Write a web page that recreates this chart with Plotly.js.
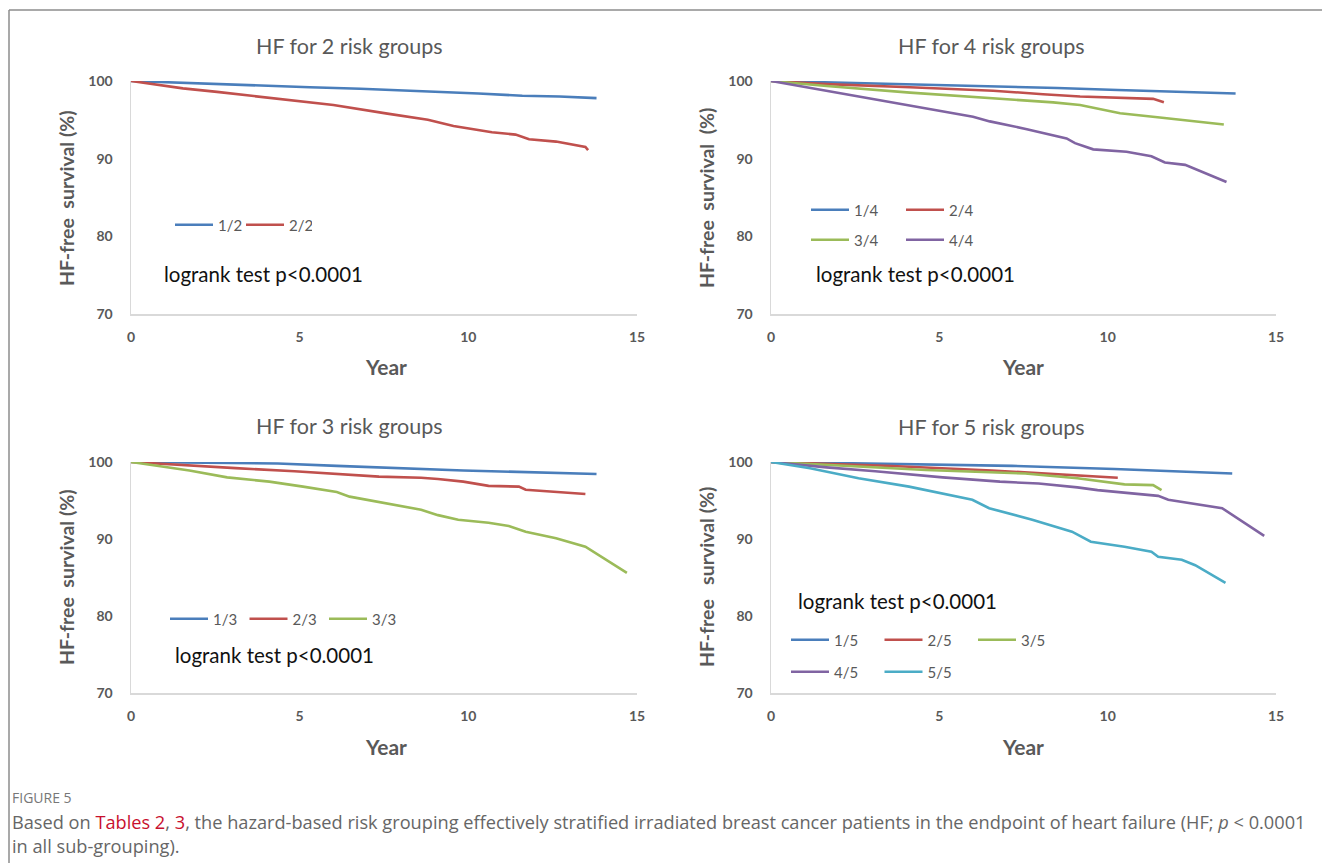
<!DOCTYPE html>
<html>
<head>
<meta charset="utf-8">
<script src="https://cdn.plot.ly/plotly-3.0.1.min.js"></script>
<style>html,body{margin:0;padding:0;background:#fff;}#chart{width:1322px;height:863px;}</style>
</head>
<body>
<div id="chart"></div>
<script>
// ---------- data ----------
// Panel A: HF for 2 risk groups
const g2_labels = ["1/2", "2/2"];
const g2_t1 = [0, 1.2, 2.5, 3.8, 5.3, 6.8, 8.3, 9.4, 10.3, 11.6, 12.7, 13.8];
const g2_s1 = [100, 99.8, 99.6, 99.45, 99.2, 99.0, 98.75, 98.6, 98.4, 98.1, 98.0, 97.8];
const g2_t2 = [0, 0.8, 1.54, 2.55, 3.83, 5.0, 6.0, 7.6, 8.8, 9.56, 10.7, 11.4, 11.8, 12.6, 13.47, 13.55];
const g2_s2 = [100, 99.5, 99.05, 98.6, 98.0, 97.4, 96.9, 95.8, 95.0, 94.2, 93.4, 93.1, 92.5, 92.2, 91.5, 91.1];

// Panel B: HF for 4 risk groups
const g4_labels = ["1/4", "2/4", "3/4", "4/4"];
const g4_t1 = [0, 1.5, 4.0, 6.6, 8.5, 10.3, 13.8];
const g4_s1 = [100, 99.85, 99.55, 99.3, 99.1, 98.85, 98.4];
const g4_t2 = [0, 1.65, 4.13, 6.6, 8.08, 9.18, 11.35, 11.67];
const g4_s2 = [100, 99.6, 99.2, 98.75, 98.3, 98.0, 97.7, 97.25];
const g4_t3 = [0, 1.65, 4.13, 6.6, 8.38, 9.18, 10.37, 11.55, 12.24, 13.45];
const g4_s3 = [100, 99.35, 98.5, 97.8, 97.25, 96.9, 95.85, 95.3, 95.0, 94.4];
const g4_t4 = [0, 1.65, 2.94, 4.62, 6.0, 6.5, 7.6, 8.78, 9.03, 9.57, 10.56, 11.3, 11.7, 12.3, 13.53];
const g4_s4 = [100, 98.75, 97.8, 96.5, 95.4, 94.8, 93.8, 92.6, 92.0, 91.2, 90.9, 90.3, 89.5, 89.2, 87.0];

// Panel C: HF for 3 risk groups
const g3_labels = ["1/3", "2/3", "3/3"];
const g3_t1 = [0, 1.5, 4.35, 6.1, 8.1, 9.85, 13.8];
const g3_s1 = [100, 99.95, 99.8, 99.5, 99.15, 98.9, 98.45];
const g3_t2 = [0, 1.73, 3.1, 4.85, 7.35, 8.6, 9.1, 9.85, 10.6, 11.5, 11.7, 13.47];
const g3_s2 = [100, 99.5, 99.2, 98.8, 98.1, 97.96, 97.8, 97.45, 96.9, 96.8, 96.4, 95.85];
const g3_t3 = [0, 1.73, 2.85, 4.1, 5.1, 6.1, 6.48, 7.6, 8.6, 9.1, 9.7, 10.6, 11.2, 11.7, 12.6, 13.47, 14.7];
const g3_s3 = [100, 98.9, 98.0, 97.45, 96.8, 96.1, 95.5, 94.65, 93.8, 93.1, 92.5, 92.1, 91.7, 90.95, 90.1, 89.0, 85.6];

// Panel D: HF for 5 risk groups
const g5_labels = ["1/5", "2/5", "3/5", "4/5", "5/5"];
const g5_t1 = [0, 1.5, 4.0, 7.16, 10.2, 13.7];
const g5_s1 = [100, 99.9, 99.7, 99.5, 99.1, 98.5];
const g5_t2 = [0, 1.5, 3.6, 6.56, 8.54, 10.3];
const g5_s2 = [100, 99.8, 99.48, 98.9, 98.4, 97.96];
const g5_t3 = [0, 2.14, 4.6, 7.55, 9.1, 10.5, 11.35, 11.6];
const g5_s3 = [100, 99.48, 98.96, 98.5, 97.9, 97.1, 97.0, 96.35];
const g5_t4 = [0, 1.65, 3.1, 5.1, 6.8, 7.95, 9.1, 9.7, 11.5, 11.8, 13.4, 14.65];
const g5_s4 = [100, 99.3, 98.8, 98.0, 97.45, 97.2, 96.7, 96.35, 95.6, 95.1, 94.0, 90.4];
const g5_t5 = [0, 1.16, 2.6, 4.1, 5.98, 6.48, 7.76, 8.94, 9.5, 10.5, 11.3, 11.5, 12.2, 12.6, 13.5];
const g5_s5 = [100, 99.2, 97.9, 96.8, 95.1, 94.0, 92.5, 90.95, 89.65, 89.0, 88.35, 87.7, 87.3, 86.6, 84.3];

const panelTitles = ["HF for 2 risk groups", "HF for 4 risk groups", "HF for 3 risk groups", "HF for 5 risk groups"];
const xTicks = [0, 5, 10, 15];
const yTicks = [70, 80, 90, 100];
const logrankText = "logrank test p<0.0001";

// ---------- styling ----------
const W = 1322, H = 863;
const COL = {blue: "#4a7ebb", red: "#c0504d", green: "#9bbb59", purple: "#8064a2", cyan: "#4bacc6"};
const FONT = "Lato, 'Open Sans', sans-serif";
const GREY = "#595959";
const px = v => v / W;
const py = v => 1 - v / H;

function tr(x, y, name, color, axis, legend) {
  return {x: x, y: y, name: name, type: "scatter", mode: "lines",
    line: {color: color, width: 2.6}, xaxis: "x" + axis, yaxis: "y" + axis, legend: legend, hoverinfo: "skip"};
}

const data = [
  tr(g2_t1, g2_s1, g2_labels[0], COL.blue, "", "legend"),
  tr(g2_t2, g2_s2, g2_labels[1], COL.red, "", "legend"),
  tr(g4_t1, g4_s1, g4_labels[0], COL.blue, "2", "legend2"),
  tr(g4_t2, g4_s2, g4_labels[1], COL.red, "2", "legend2"),
  tr(g4_t3, g4_s3, g4_labels[2], COL.green, "2", "legend3"),
  tr(g4_t4, g4_s4, g4_labels[3], COL.purple, "2", "legend3"),
  tr(g3_t1, g3_s1, g3_labels[0], COL.blue, "3", "legend4"),
  tr(g3_t2, g3_s2, g3_labels[1], COL.red, "3", "legend4"),
  tr(g3_t3, g3_s3, g3_labels[2], COL.green, "3", "legend4"),
  tr(g5_t1, g5_s1, g5_labels[0], COL.blue, "4", "legend5"),
  tr(g5_t2, g5_s2, g5_labels[1], COL.red, "4", "legend5"),
  tr(g5_t3, g5_s3, g5_labels[2], COL.green, "4", "legend5"),
  tr(g5_t4, g5_s4, g5_labels[3], COL.purple, "4", "legend6"),
  tr(g5_t5, g5_s5, g5_labels[4], COL.cyan, "4", "legend6")
];

function xa(d0, d1, anchor) {
  return {domain: [px(d0), px(d1)], range: [0, 15], tickvals: xTicks, ticktext: xTicks.map(String),
    showgrid: false, zeroline: false, showline: true, linecolor: "#d9d9d9", linewidth: 1.5,
    ticks: "", ticklabelstandoff: 10, anchor: anchor, fixedrange: true,
    tickfont: {family: FONT, size: 14, color: GREY, weight: "bold"}};
}
function ya(d0, d1, anchor) {
  return {domain: [py(d1), py(d0)], range: [70, 100], tickvals: yTicks, ticktext: yTicks.map(String),
    showgrid: false, zeroline: false, showline: true, linecolor: "#d9d9d9", linewidth: 1.5,
    ticks: "", ticklabelstandoff: 14, anchor: anchor, fixedrange: true,
    tickfont: {family: FONT, size: 14, color: GREY, weight: "bold"}};
}

function leg(xp, yp, ew) {
  return {x: px(xp), y: py(yp), xanchor: "left", yanchor: "middle", orientation: "h",
    bgcolor: "rgba(0,0,0,0)", borderwidth: 0, entrywidth: ew, entrywidthmode: "pixels",
    itemwidth: 38, tracegroupgap: 0, itemclick: false, itemdoubleclick: false,
    font: {family: FONT, size: 15, color: GREY}};
}

function ann(text, x, y, opts) {
  return Object.assign({text: text, x: px(x), y: py(y), xref: "paper", yref: "paper",
    showarrow: false, xanchor: "center", yanchor: "middle"}, opts || {});
}

const NB = "\u00A0";
const TF = {family: FONT, size: 21.5, color: GREY};
const AF = {family: FONT, size: 19.5, color: GREY, weight: "bold"};
const LF = {family: FONT, size: 20.5, color: "#111"};
const CF = {family: "'Open Sans', sans-serif", size: 18.2, color: "#666"};
const annotations = [
  ann(panelTitles[0], 349, 46, {font: TF}),
  ann(panelTitles[1], 991, 46, {font: TF}),
  ann(panelTitles[2], 349, 426, {font: TF}),
  ann(panelTitles[3], 991, 427, {font: TF}),
  ann("HF-free" + NB + NB + "survival (%)", 66, 198, {textangle: -90, font: AF}),
  ann("HF-free" + NB + NB + "survival" + NB + NB + "(%)", 706, 198, {textangle: -90, font: AF}),
  ann("HF-free" + NB + NB + "survival (%)", 66, 577, {textangle: -90, font: AF}),
  ann("HF-free" + NB + NB + NB + "survival (%)", 706, 577, {textangle: -90, font: AF}),
  ann("Year", 386, 366, {font: {family: FONT, size: 21, color: GREY, weight: "bold"}}),
  ann("Year", 1023, 366, {font: {family: FONT, size: 21, color: GREY, weight: "bold"}}),
  ann("Year", 386, 746, {font: {family: FONT, size: 21, color: GREY, weight: "bold"}}),
  ann("Year", 1023, 746, {font: {family: FONT, size: 21, color: GREY, weight: "bold"}}),
  ann(logrankText, 162, 274, {xanchor: "left", font: LF}),
  ann(logrankText, 814, 274, {xanchor: "left", font: LF}),
  ann(logrankText, 173, 655, {xanchor: "left", font: LF}),
  ann(logrankText, 796, 601, {xanchor: "left", font: LF}),
  ann("FIGURE 5", 10, 797, {xanchor: "left", font: {family: "'Open Sans', sans-serif", size: 14, color: "#777"}}),
  ann("Based on <span style='color:#c8102e'>Tables 2</span>, <span style='color:#c8102e'>3</span>, the hazard-based risk grouping effectively stratified irradiated breast cancer patients in the endpoint of heart failure (HF; <i>p</i>" + NB + "<" + NB + "0.0001",
    10, 822, {xanchor: "left", font: CF}),
  ann("in all sub-grouping).", 10, 846, {xanchor: "left", font: CF})
];

const layout = {
  width: W, height: H, margin: {l: 0, r: 0, t: 0, b: 0, pad: 0},
  paper_bgcolor: "#fff", plot_bgcolor: "#fff", showlegend: true,
  xaxis: xa(131, 637, "y"), yaxis: ya(81, 314, "x"),
  xaxis2: xa(771, 1276, "y2"), yaxis2: ya(81, 314, "x2"),
  xaxis3: xa(131, 637, "y3"), yaxis3: ya(462, 693, "x3"),
  xaxis4: xa(771, 1276, "y4"), yaxis4: ya(462, 693, "x4"),
  legend: leg(170, 225, 18),
  legend2: leg(806, 210, 42),
  legend3: leg(806, 240, 42),
  legend4: leg(165, 619, 26.5),
  legend5: leg(786, 640, 40.5),
  legend6: leg(786, 672, 40.5),
  annotations: annotations,
  shapes: [
    {type: "line", xref: "paper", yref: "paper", x0: px(9), x1: 1, y0: py(10), y1: py(10), line: {color: "#8c8c8c", width: 1.5}},
    {type: "line", xref: "paper", yref: "paper", x0: px(9), x1: px(9), y0: py(10), y1: 0, line: {color: "#8c8c8c", width: 1.5}}
  ]
};

Plotly.newPlot("chart", data, layout, {staticPlot: true, displayModeBar: false});
</script>
</body>
</html>
